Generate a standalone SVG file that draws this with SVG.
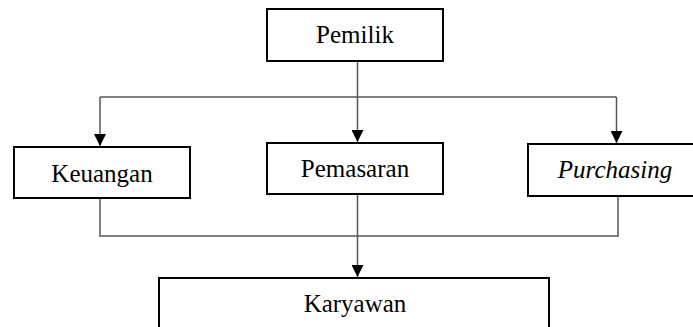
<svg xmlns="http://www.w3.org/2000/svg" width="693" height="327" viewBox="0 0 693 327">
<style>
.box{fill:#fff;stroke:#000;stroke-width:2}
.lbl{font-family:"Liberation Serif","Times New Roman",serif;font-size:25px;fill:#000;text-anchor:middle}
.ln{fill:none;stroke:#555;stroke-width:1.5}
</style>
<defs>
<marker id="ah" markerWidth="12" markerHeight="12" refX="12" refY="6" orient="auto" markerUnits="userSpaceOnUse" viewBox="0 0 12 12">
<path d="M0,0 L12,6 L0,12 Z" fill="#000"/>
</marker>
</defs>
<rect width="693" height="327" fill="#fff"/>
<g id="connectors">
<path class="ln" d="M357.5,61 V97"/>
<path class="ln" d="M100,97 H616.5"/>
<path class="ln" d="M100,97 V146" marker-end="url(#ah)"/>
<path class="ln" d="M357.5,97 V142" marker-end="url(#ah)"/>
<path class="ln" d="M616.5,97 V143" marker-end="url(#ah)"/>
<path class="ln" d="M100,198 V236 H618 V196"/>
<path class="ln" d="M357.5,194 V277" marker-end="url(#ah)"/>
</g>
<g id="pemilik">
<rect class="box" x="267" y="9" width="176" height="52"/>
<text class="lbl" x="355" y="43">Pemilik</text>
</g>
<g id="keuangan">
<rect class="box" x="14" y="147" width="176" height="51"/>
<text class="lbl" x="102" y="182">Keuangan</text>
</g>
<g id="pemasaran">
<rect class="box" x="267" y="143" width="176" height="51"/>
<text class="lbl" x="355" y="177">Pemasaran</text>
</g>
<g id="purchasing">
<rect class="box" x="528" y="144" width="166" height="52"/>
<text class="lbl" x="615" y="178" font-style="italic">Purchasing</text>
</g>
<g id="karyawan">
<rect class="box" x="159" y="278" width="390" height="60"/>
<text class="lbl" x="355" y="312">Karyawan</text>
</g>
</svg>
